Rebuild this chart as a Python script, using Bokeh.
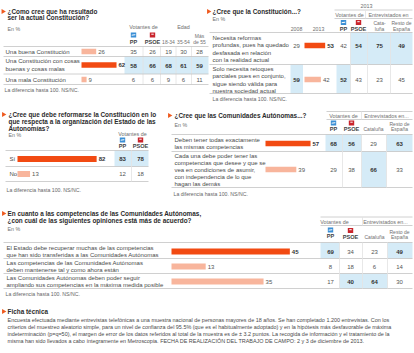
import math
from bokeh.plotting import figure
from bokeh.models import ColumnDataSource, Range1d
from bokeh.embed import file_html
from bokeh.resources import INLINE
from bokeh.core.properties import value

# ---------------- DATA ----------------
footnote = "La diferencia hasta 100. NS/NC."

q1_title = ["¿Como cree que ha resultado", "ser la actual Constitución?"]
q1_labels = [["Una buena Constitución"],
             ["Una Constitución con cosas", "buenas y cosas malas"],
             ["Una mala Constitución"]]
q1_total = [26, 62, 9]
q1_pp = [35, 58, 6]
q1_psoe = [26, 66, 6]
q1_1834 = [19, 68, 9]
q1_3554 = [30, 61, 6]
q1_55 = [28, 59, 11]

q2_title = "¿Cree que la Constitución...?"
q2_labels = [["Necesita reformas", "profundas, pues ha quedado", "desfasada en relación", "con la realidad actual"],
             ["Solo necesita retoques", "parciales  pues en conjunto,", "sigue siendo  válida para", "nuestra sociedad actual"]]
q2_2008 = [29, 59]
q2_2013 = [53, 42]
q2_pp = [42, 52]
q2_psoe = [54, 43]
q2_cat = [75, 23]
q2_resto = [49, 45]

q3_title = ["¿Cree que debe reformarse la Constitución en lo",
            "que respecta a la organización del  Estado de las",
            "Autonomías?"]
q3_labels = [["Sí"], ["No"]]
q3_total = [82, 13]
q3_pp = [83, 12]
q3_psoe = [78, 18]

q4_title = "¿Cree que las Comunidades Autónomas...?"
q4_labels = [["Deben tener todas exactamente", "las mismas competencias"],
             ["Cada una debe poder tener las", "competencias que desee y que se",
              "vea en condiciones de asumir,", "con independencia de lo que", "hagan las demás"]]
q4_total = [57, 39]
q4_pp = [68, 29]
q4_psoe = [56, 38]
q4_cat = [29, 66]
q4_resto = [63, 33]

q5_title = ["En cuanto a las competencias de las Comunidades Autónomas,",
            "¿con cuál de las siguientes opiniones está más de acuerdo?"]
q5_labels = [["El Estado debe recuperar muchas de las competencias",
              "que han sido transferidas a las Comunidades Autónomas"],
             ["Las competencias de las Comunidades Autónomas",
              "deben mantenerse tal y como ahora están"],
             ["Las Comunidades Autónomas deben poder seguir",
              "ampliando sus competencias en la máxima medida posible"]]
q5_total = [45, 13, 35]
q5_pp = [69, 8, 17]
q5_psoe = [34, 18, 40]
q5_cat = [23, 6, 64]
q5_resto = [49, 14, 30]

ficha_title = "Ficha técnica"
ficha_lines = [
    "Encuesta efectuada mediante entrevistas telefónicas a una muestra nacional de personas mayores de 18 años. Se han completado 1.200 entrevistas. Con los",
    "criterios del muestreo aleatorio simple, para un nivel de confianza del 95.5% (que es el habitualmente adoptado) y en la hipótesis más desfavorable de máxima",
    "indeterminación (p=q=50), el margen de error de los datos referidos al total de la muestra es de ± 3.2 puntos. La recogida de información y el tratamiento de la",
    "misma han sido llevados a cabo íntegramente en Metroscopia. FECHA DE REALIZACIÓN DEL TRABAJO DE CAMPO: 2 y 3 de diciembre de 2013.",
]

# ---------------- STYLE ----------------
FONT = "Liberation Sans"
TITLE_C = "#2b2b2b"
TXT = "#4a4a4a"
HDR = "#707070"
NUM = "#555555"
BAR_HI = "#f24a12"
BAR_LO = "#f8b59c"
HL = "#d5ebf7"
LINE = "#c4c4c4"
VLINE = "#e2e2e2"
ORANGE = "#ef5a1e"
PP_BLUE = "#3b8fd5"
PSOE_RED = "#c9252c"

T = dict(x=[], y=[], text=[], size=[], style=[], color=[], align=[])
Q = dict(left=[], right=[], top=[], bottom=[], color=[])
S = dict(x0=[], y0=[], x1=[], y1=[], color=[])
BARS = dict(left=[], right=[], top=[], bottom=[], color=[])
ICON = dict(left=[], right=[], top=[], bottom=[], color=[])
W = dict(x0=[], y0=[], x1=[], y1=[])
BUL = dict(x=[], y=[])


def text(x, y, s, size=6.0, bold=False, color=TXT, align="left"):
    T["x"].append(x); T["y"].append(y); T["text"].append(s)
    T["size"].append(f"{size}px"); T["style"].append("bold" if bold else "normal")
    T["color"].append(color); T["align"].append(align)


def rect(d, l, r, t, b, color):
    d["left"].append(l); d["right"].append(r); d["top"].append(t); d["bottom"].append(b)
    d["color"].append(color)


def seg(x0, y0, x1, y1, color=LINE):
    S["x0"].append(x0); S["y0"].append(y0); S["x1"].append(x1); S["y1"].append(y1)
    S["color"].append(color)


def bullet(x, y):
    BUL["x"].append(x); BUL["y"].append(y)


def icon_pp(cx, cy):
    rect(ICON, cx - 2.7, cx + 2.7, cy - 2.4, cy + 2.4, PP_BLUE)
    W["x0"].append(cx - 1.8); W["y0"].append(cy + 0.2); W["x1"].append(cx + 1.8); W["y1"].append(cy - 0.3)


def icon_psoe(cx, cy):
    rect(ICON, cx - 2.7, cx + 2.7, cy - 2.4, cy + 2.4, PSOE_RED)
    W["x0"].append(cx - 1.2); W["y0"].append(cy - 0.8); W["x1"].append(cx + 1.2); W["y1"].append(cy - 0.8)


def bars(x0, scale, ys, vals, h=5.5, size=6.0):
    m = max(vals)
    for y, v in zip(ys, vals):
        r = x0 + v * scale
        rect(BARS, x0, r, y - h / 2, y + h / 2, BAR_HI if v == m else BAR_LO)
        text(r + 2, y, str(v), size, bold=(v == m), color=NUM if v != m else "#333")


def table(cols, centers, edges, ys, row_bounds, top, bottom, size=6.0):
    for j, col in enumerate(cols):
        m = max(col)
        for i, v in enumerate(col):
            if v == m:
                rect(Q, edges[j], edges[j + 1], row_bounds[i], row_bounds[i + 1], HL)
            text(centers[j], ys[i], str(v), size, bold=(v == m),
                 color="#333" if v == m else NUM, align="center")
    for e in edges[1:-1]:
        seg(e, top, e, bottom, VLINE)


def labels(x, rows, line_ys, size=6.0):
    for lines, ys in zip(rows, line_ys):
        for s, y in zip(lines, ys):
            text(x, y, s, size)


# ---------------- PANEL 1 ----------------
bullet(2.5, 11)
text(7, 10.5, q1_title[0], 6.4, True, TITLE_C)
text(7, 17, q1_title[1], 6.4, True, TITLE_C)
text(7, 28, "En %", 5.3, color=HDR)
text(143, 26, "Votantes de", 5.4, color=HDR, align="center")
text(183, 26, "Edad", 5.4, color=HDR, align="center")
icon_pp(133, 34.5); icon_psoe(152, 34.5)
text(133, 41.5, "PP", 5.6, True, "#444", "center")
text(152, 41.5, "PSOE", 5.6, True, "#444", "center")
text(168, 41.5, "18-34", 5.0, color=HDR, align="center")
text(183, 41.5, "35-54", 5.0, color=HDR, align="center")
text(199, 35.5, "Más", 5.0, color=HDR, align="center")
text(199, 41.5, "de 55", 5.0, color=HDR, align="center")
rb1 = [46, 56, 73.5, 84]
table([q1_pp, q1_psoe, q1_1834, q1_3554, q1_55], [133, 152, 168, 183, 199],
      [124, 142.5, 160, 175.5, 191, 208], [51, 65, 79], rb1, 46, 84)
for y in rb1:
    seg(3, y, 208, y)
labels(5, q1_labels, [[51], [60.5, 68], [79]])
bars(81, 0.565, [51, 64.5, 79], q1_total)
text(4, 89.5, footnote, 5.2, color="#666")

# ---------------- PANEL 2 ----------------
bullet(208, 11)
text(212, 11, q2_title, 6.4, True, TITLE_C)
text(212, 18.5, "En %", 5.3, color=HDR)
text(366, 5.5, "2013", 5.4, color=HDR, align="center")
seg(334, 9.5, 412, 9.5)
text(349, 14, "Votantes de", 5.4, color=HDR, align="center")
text(388, 14, "Entrevistados en", 5.4, color=HDR, align="center")
seg(334, 18, 412, 18)
seg(365, 10, 365, 18, VLINE)
text(296, 28, "2008", 5.2, color=HDR, align="center")
text(318, 28, "2013", 5.2, color=HDR, align="center")
icon_pp(343, 22); icon_psoe(358, 22)
text(343, 28.5, "PP", 5.6, True, "#444", "center")
text(358, 28.5, "PSOE", 5.6, True, "#444", "center")
text(379, 22, "Cata-", 5.0, color=HDR, align="center")
text(379, 28, "luña", 5.0, color=HDR, align="center")
text(401, 22, "Resto de", 5.0, color=HDR, align="center")
text(401, 28, "España", 5.0, color=HDR, align="center")
rb2 = [32, 64, 93]
for y in rb2:
    seg(209, y, 412, y)
labels(212, q2_labels, [[37, 44.5, 52, 59.5], [68, 75.5, 83, 90]])
table([q2_2008], [296], [290, 302.5], [45, 79], rb2, 32, 93)
table([q2_pp, q2_psoe, q2_cat, q2_resto], [343, 358, 379, 401],
      [336, 350, 367, 390, 412], [45, 79], rb2, 32, 93)
bars(304, 0.39, [45, 79], q2_2013)
text(212, 98.5, footnote, 5.2, color="#666")

# ---------------- PANEL 3 ----------------
bullet(3, 114)
for s, y in zip(q3_title, [114, 121, 128]):
    text(8, y, s, 6.4, True, TITLE_C)
text(8, 134.5, "En %", 5.3, color=HDR)
text(132, 133, "Votantes de", 5.4, color=HDR, align="center")
icon_pp(122, 139.5); icon_psoe(140, 139.5)
text(122, 145.5, "PP", 5.6, True, "#444", "center")
text(140, 145.5, "PSOE", 5.6, True, "#444", "center")
rb3 = [150, 166, 181]
for y in rb3:
    seg(5, y, 148, y)
table([q3_pp, q3_psoe], [122, 140], [114, 131, 148], [158.5, 173.5], rb3, 150, 181)
labels(9, q3_labels, [[158.5], [173.5]])
bars(17, 0.965, [158.5, 173.5], q3_total, h=6)
text(6, 189.5, footnote, 5.2, color="#666")

# ---------------- PANEL 4 ----------------
bullet(169, 115)
text(174, 115, q4_title, 6.4, True, TITLE_C)
text(174, 124, "En %", 5.3, color=HDR)
seg(326, 111, 412, 111)
text(343, 115, "Votantes de", 5.4, color=HDR, align="center")
text(386, 115, "Entrevistados en...", 5.4, color=HDR, align="center")
seg(326, 119, 412, 119)
seg(361, 111, 361, 119, VLINE)
icon_pp(333, 122.5); icon_psoe(351, 122.5)
text(333, 128.5, "PP", 5.6, True, "#444", "center")
text(351, 128.5, "PSOE", 5.6, True, "#444", "center")
text(373, 128.5, "Cataluña", 5.0, color=HDR, align="center")
text(399, 123, "Resto de", 5.0, color=HDR, align="center")
text(399, 128.5, "España", 5.0, color=HDR, align="center")
rb4 = [134, 151, 187]
for y in rb4:
    seg(171, y, 412, y)
table([q4_pp, q4_psoe, q4_cat, q4_resto], [333, 351, 373, 399],
      [325, 342, 361, 386, 412], [143, 169], rb4, 134, 187)
labels(174, q4_labels, [[139.5, 146.5], [155, 162, 169, 176, 183]])
bars(265, 0.79, [143, 169], q4_total)
text(173, 193, footnote, 5.2, color="#666")

# ---------------- PANEL 5 ----------------
bullet(3, 213)
text(7, 213, q5_title[0], 6.4, True, TITLE_C)
text(7, 220, q5_title[1], 6.4, True, TITLE_C)
text(7, 228.5, "En %", 5.3, color=HDR)
seg(320, 216.5, 412, 216.5)
text(334, 221, "Votantes de", 5.4, color=HDR, align="center")
text(385, 221, "Entrevistados en...", 5.4, color=HDR, align="center")
seg(320, 225, 412, 225)
seg(362, 216.5, 362, 225, VLINE)
icon_pp(330, 229.5); icon_psoe(350, 230)
text(330, 235.5, "PP", 5.6, True, "#444", "center")
text(350, 236.5, "PSOE", 5.6, True, "#444", "center")
text(374, 236.5, "Cataluña", 5.0, color=HDR, align="center")
text(399, 231, "Resto de", 5.0, color=HDR, align="center")
text(399, 236.5, "España", 5.0, color=HDR, align="center")
rb5 = [242, 258, 273, 288]
for y in rb5:
    seg(3, y, 412, y)
table([q5_pp, q5_psoe, q5_cat, q5_resto], [330, 350, 374, 399],
      [320, 339, 362, 387, 412], [251, 266, 281], rb5, 242, 288)
labels(6, q5_labels, [[247.5, 254.5], [262.5, 269.5], [277.5, 284.5]])
bars(171, 2.63, [251, 266, 281], q5_total, h=6)
text(5, 293.5, footnote, 5.2, color="#666")

# ---------------- FICHA ----------------
bullet(3, 311)
text(7, 311, ficha_title, 6.4, True, TITLE_C)
for s, y in zip(ficha_lines, [319.5, 326.5, 333.5, 340.5]):
    text(7, y, s, 5.45, color=TXT)

# ---------------- FIGURE ----------------
p = figure(width=414, height=353, x_range=Range1d(0, 414), y_range=Range1d(353, 0),
           output_backend="svg", toolbar_location=None, min_border=0,
           x_axis_location=None, y_axis_location=None)
p.grid.visible = False
p.outline_line_color = None
p.background_fill_color = "white"
p.border_fill_color = "white"

p.quad(left="left", right="right", top="top", bottom="bottom", color="color",
       source=ColumnDataSource(Q), line_color=None)
p.segment(x0="x0", y0="y0", x1="x1", y1="y1", line_color="color", line_width=0.8,
          source=ColumnDataSource(S))
p.quad(left="left", right="right", top="top", bottom="bottom", color="color",
       source=ColumnDataSource(BARS), line_color=None)
p.quad(left="left", right="right", top="top", bottom="bottom", color="color",
       source=ColumnDataSource(ICON), line_color=None)
p.segment(x0="x0", y0="y0", x1="x1", y1="y1", line_color="white", line_width=1.0,
          source=ColumnDataSource(W))
p.scatter(x="x", y="y", source=ColumnDataSource(BUL), marker="triangle", size=5,
          angle=-math.pi / 2, color=ORANGE, line_color=None)
p.text(x="x", y="y", text="text", source=ColumnDataSource(T), text_font=value(FONT),
       text_font_size="size", text_font_style="style", text_color="color",
       text_align="align", text_baseline="middle")

open("out.html", "w").write(file_html(p, INLINE))
